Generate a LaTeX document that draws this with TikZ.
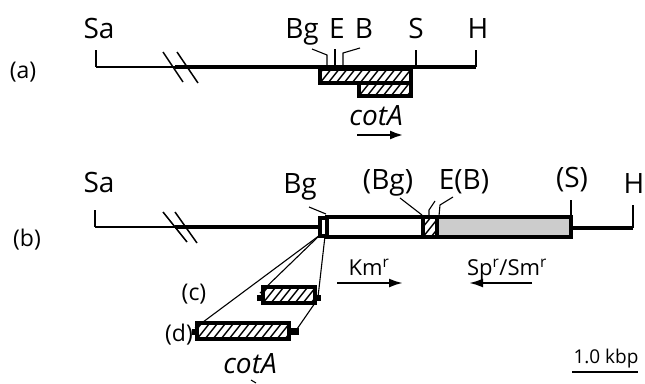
\documentclass[tikz,border=0pt]{standalone}
\usepackage{fontspec}
\setmainfont{Open Sans}
\usetikzlibrary{arrows,arrows.meta}

\begin{document}
\begin{tikzpicture}[x=1pt,y=-1pt]
	\tikzstyle{map line} = [line width=3.6pt]
	\tikzstyle{thin map} = [line width=2.2pt]
	\tikzstyle{leader} = [line width=1.1pt]
	\tikzstyle{site} = [font=\fontsize{28}{32}\selectfont, inner sep=0pt, anchor=base]
	\tikzstyle{tag} = [font=\fontsize{23}{26}\selectfont, inner sep=0pt, anchor=base]
	\tikzstyle{marker} = [font=\fontsize{22}{26}\selectfont, inner sep=0pt, anchor=base]
	\tikzstyle{gene} = [font=\fontsize{28}{32}\selectfont\itshape, inner sep=0pt, anchor=base]
	\tikzstyle{plain box} = [draw, line width=3.2pt, fill=white]
	\tikzstyle{gray box} = [draw, line width=3.2pt, fill=black!20]
	\tikzstyle{hatch box} = [draw, line width=3.2pt, fill=white,
		path picture={
			\foreach \s in {0,8,...,140}
				\draw[line width=1.4pt] ([xshift=\s pt]path picture bounding box.south west) ++(-16pt,0pt) -- ++(16pt,20pt);
		}]
	\tikzstyle{tab} = [fill=black]
	\tikzstyle{direction} = [line width=2.2pt, -{Latex[length=14pt,width=9pt]}]

	\useasboundingbox (0,0) rectangle (645,383);

	% (a) map
	\draw (23,78) node[tag] (la) {(a)};
	\draw (99,38) node[site] (saa) {Sa};
	\draw (302,38) node[site] (bga) {Bg};
	\draw (337,38) node[site] (ea) {E};
	\draw (364,38) node[site] (ba) {B};
	\draw (416,38) node[site] (sa) {S};
	\draw (478,38) node[site] (ha) {H};

	\coordinate (saa end) at (96,67);
	\coordinate (ha end) at (476,67);
	\draw[thin map] (saa end) -- (175,67);
	\draw[map line] (175,67) -- (ha end);
	\draw[leader] (96,50) -- (saa end);
	\draw[leader] (476,50) -- (ha end);
	\draw[leader] (416,50) -- (416,67);
	\draw[line width=1.5pt] (163,52) -- (183,82);
	\draw[line width=1.5pt] (177,52) -- (198,83);

	\draw[leader] (312,49) -- (327,55) -- (327,66);
	\draw[leader] (335,49) -- (335,66);
	\draw[leader] (360,48) -- (343,53) -- (343,66);

	\draw[hatch box] (320,69) rectangle (411,83);
	\draw[hatch box] (359,83) rectangle (411,96);

	\draw (376,125) node[gene] (cota) {cotA};
	\draw[direction, line width=2.8pt] (357,135) -- (404,135);

	% (b) map
	\draw (27,246) node[tag] (lb) {(b)};
	\draw (99,192) node[site] (sab) {Sa};
	\draw (300,193) node[site] (bgb) {Bg};
	\draw (388,189) node[site] (bgp) {(Bg)};
	\draw (464,189) node[site] (eb) {E(B)};
	\draw (572,187) node[site] (sb) {(S)};
	\draw (634,193) node[site] (hb) {H};

	\coordinate (sab end) at (95,227);
	\coordinate (hb end) at (633,228);
	\draw[leader] (95,210) -- (sab end);
	\draw[thin map] (sab end) -- (175,227);
	\draw[map line] (175,227) -- (320,227);
	\draw[map line] (571,228) -- (hb end);
	\draw[leader] (633,205) -- (hb end);
	\draw[line width=1.5pt] (163,212) -- (187,242);
	\draw[line width=1.5pt] (175,212) -- (197,243);

	\draw[plain box] (320,218) rectangle (327,236);
	\draw[plain box] (327,217) rectangle (423,237);
	\draw[hatch box] (423,217) rectangle (437,237);
	\draw[gray box] (437,217) rectangle (571,237);

	\draw[leader] (309,207) -- (326,214);
	\draw[leader] (400,198) -- (422,215);
	\draw[leader] (435,201) -- (429,210) -- (429,216);
	\draw[leader] (453,197) -- (440,205) -- (439,216);
	\draw[leader] (571,200) -- (571,216);

	\draw (369,275) node[marker] (km) {Km\textsuperscript{r}};
	\draw[direction] (337,283) -- (403,283);
	\draw (507,275) node[marker] (sp) {Sp\textsuperscript{r}/Sm\textsuperscript{r}};
	\draw[direction] (532,283) -- (469,283);

	% (c) and (d) inserts
	\draw (194,300) node[tag] (lc) {(c)};
	\draw (179,341) node[tag] (ld) {(d)};

	\draw[tab] (257,295) rectangle (263,300);
	\draw[tab] (315,295) rectangle (320,300);
	\draw[hatch box] (263,287) rectangle (315,303);
	\draw[tab] (192,329) rectangle (197,334);
	\draw[tab] (289,328) rectangle (298,334);
	\draw[hatch box] (197,323) rectangle (289,339);

	\coordinate (ins) at (320,235);
	\coordinate (ins r) at (325,236);
	\coordinate (c left) at (260,293);
	\coordinate (c right) at (318,297);
	\coordinate (d left) at (195,328);
	\coordinate (d right) at (297,329);
	\draw[leader] (ins) -- (d left);
	\draw[leader] (ins) -- (c left);
	\draw[leader] (ins r) -- (c right);
	\draw[leader] (315,303) -- (d right);

	\draw (250,373) node[gene] (cotb) {cotA};
	\draw[leader] (251,380) -- (256,383);

	% scale bar
	\draw (606,363) node[marker, font=\fontsize{19}{22}\selectfont] (bar) {1.0 kbp};
	\draw[line width=2.2pt] (572,372) -- (638,372);
\end{tikzpicture}
\end{document}
